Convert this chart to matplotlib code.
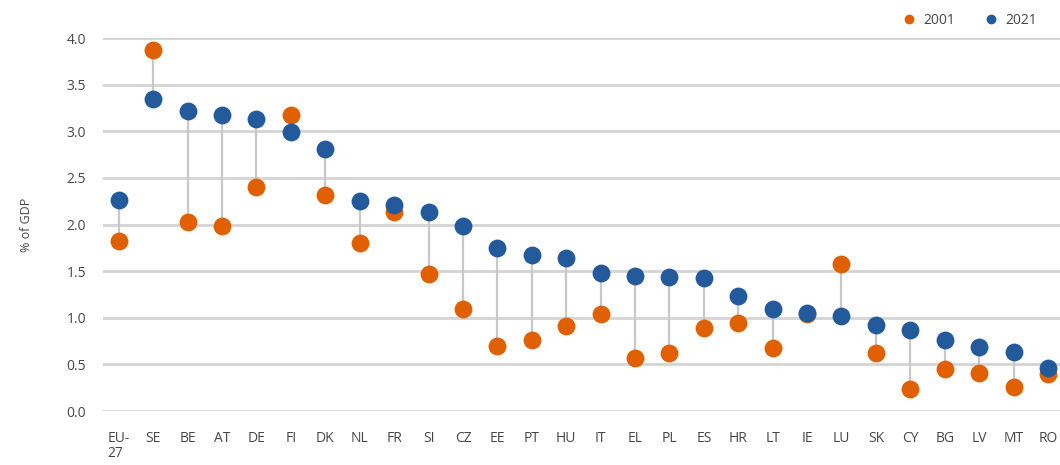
import matplotlib
matplotlib.use("Agg")
import matplotlib.pyplot as plt
from matplotlib.lines import Line2D

countries = ["EU-\n27", "SE", "BE", "AT", "DE", "FI", "DK", "NL", "FR", "SI", "CZ", "EE", "PT", "HU",
             "IT", "EL", "PL", "ES", "HR", "LT", "IE", "LU", "SK", "CY", "BG", "LV", "MT", "RO"]
v2001 = [1.82, 3.87, 2.03, 1.99, 2.40, 3.18, 2.32, 1.80, 2.14, 1.47, 1.10, 0.70, 0.76, 0.91,
         1.04, 0.57, 0.62, 0.89, 0.94, 0.68, 1.04, 1.58, 0.62, 0.24, 0.45, 0.41, 0.26, 0.40]
v2021 = [2.26, 3.35, 3.22, 3.18, 3.13, 2.99, 2.81, 2.25, 2.21, 2.13, 1.99, 1.75, 1.67, 1.64,
         1.48, 1.45, 1.44, 1.43, 1.23, 1.10, 1.05, 1.02, 0.92, 0.87, 0.76, 0.69, 0.63, 0.46]
yticks = [0.0, 0.5, 1.0, 1.5, 2.0, 2.5, 3.0, 3.5, 4.0]

orange = "#E06000"
blue = "#235A9C"
tick_col = "#474747"

plt.rcParams['font.family'] = ['Open Sans', 'DejaVu Sans']
fig = plt.figure(figsize=(10.6, 4.65), dpi=100)
ax = fig.add_axes([0.097, 0.116, 0.903, 0.802])

x = list(range(len(countries)))
for xi, a, b in zip(x, v2001, v2021):
    ax.plot([xi, xi], [a, b], color="#c8c8c8", lw=1.6, zorder=2, clip_on=False)
ax.scatter(x, v2001, s=165, color=orange, zorder=3, clip_on=False, linewidths=0)
ax.scatter(x, v2021, s=165, color=blue, zorder=4, clip_on=False, linewidths=0)

ax.set_xlim(-0.465, len(countries) - 1 + 0.35)
ax.set_ylim(0, 4.0)
ax.set_yticks(yticks)
ax.set_yticklabels([f"{t:.1f}" for t in yticks])
ax.set_xticks(x)
ax.set_xticklabels(countries, ha="center", va="top", linespacing=1.0)
for lbl in ax.get_xticklabels():
    lbl.set_multialignment("left")

ax.grid(axis="y", color="#d4d4d4", lw=2, zorder=0)
ax.set_axisbelow(True)
for s in ax.spines.values():
    s.set_visible(False)
ax.tick_params(axis="both", length=0, labelsize=10, colors=tick_col)
ax.tick_params(axis="y", pad=12)
ax.tick_params(axis="x", pad=14)
ax.set_ylabel("% of GDP", fontsize=9, color=tick_col, labelpad=24)

handles = [Line2D([], [], marker="o", ls="", color=orange, markersize=6, label="2001"),
           Line2D([], [], marker="o", ls="", color=blue, markersize=6, label="2021")]
fig.legend(handles=handles, loc="upper right", bbox_to_anchor=(0.99, 1.0), ncol=2, frameon=False,
           fontsize=10, handletextpad=0.0, columnspacing=1.6, labelcolor=tick_col)

fig.savefig("out.png", dpi=100)
